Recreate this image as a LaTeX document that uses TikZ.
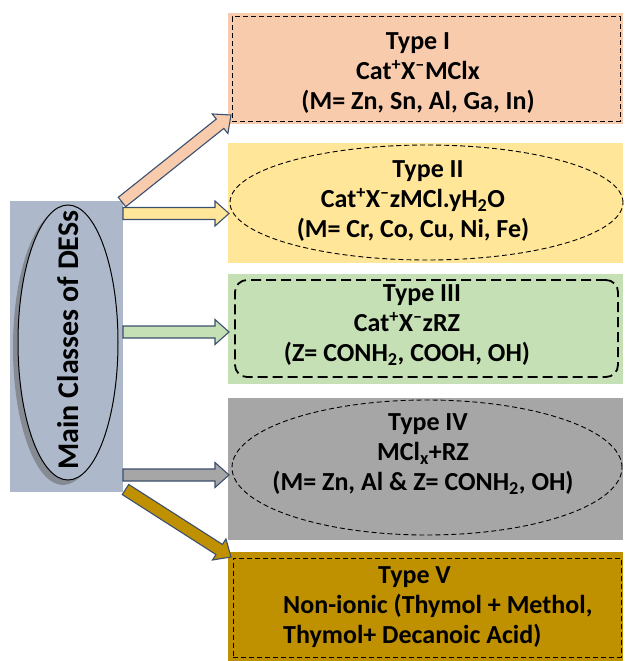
\documentclass[tikz,border=0pt]{standalone}
\usepackage{fontspec}
\setmainfont{Carlito}
\usepackage{tikz}
\usetikzlibrary{shapes.geometric, calc, shadows}

\definecolor{classblue}{HTML}{ADB9CA}
\definecolor{peach}{HTML}{F8CBAD}
\definecolor{butter}{HTML}{FFE699}
\definecolor{sage}{HTML}{C5E0B4}
\definecolor{ash}{HTML}{A6A6A6}
\definecolor{ochre}{HTML}{BF9000}
\definecolor{arrowblue}{HTML}{3B4F6E}

% block arrow from #1 to #2, filled with #3
\newcommand{\blockarrow}[3]{%
  \coordinate (hb) at ($(#2)!14pt!(#1)$);
  \draw[arrowbox, fill=#3]
    ($(#1)!6pt!90:(#2)$) -- ($(hb)!6pt!90:(#2)$)
    -- ($(hb)!12.5pt!90:(#2)$) -- (#2)
    -- ($(hb)!12.5pt!-90:(#2)$) -- ($(hb)!6pt!-90:(#2)$)
    -- ($(#1)!6pt!-90:(#2)$) -- cycle;}

\begin{document}
\begin{tikzpicture}[x=1pt, y=-1pt,
    % coloured panels of the five types
    panel/.style={rectangle, draw=none, minimum width=395pt, inner sep=0pt},
    % dashed frames inside the panels
    dashframe/.style={rectangle, draw=black, dash pattern=on 5pt off 3pt,
                      line width=1pt, inner sep=0pt},
    dashoval/.style={ellipse, draw=black, dash pattern=on 5pt off 3pt,
                     line width=0.9pt, inner sep=0pt},
    % panel texts
    typetext/.style={font=\bfseries\fontsize{26}{30}\selectfont, align=center,
                     inner sep=0pt},
    arrowbox/.style={draw=arrowblue, line width=1.1pt, line join=miter}
]
\useasboundingbox (0,0) rectangle (625,661);

%-------- LEFT BLOCK --------
\node[rectangle, fill=classblue, minimum width=113pt, minimum height=291pt,
      inner sep=0pt] (classes) at (66.5,346.5) {};
\node[ellipse, draw=black, line width=1pt, fill=classblue, minimum width=100pt,
      minimum height=275pt, inner sep=0pt,
      drop shadow={shadow xshift=-5pt, shadow yshift=-5pt, fill=black!60, opacity=.55}]
    (oval) at (68,342.5) {};
\node[rotate=90, font=\bfseries\fontsize{30}{34}\selectfont] (title) at (68,340)
    {Main Classes of DESs};

%-------- TYPE PANELS --------
\node[panel, fill=peach, minimum height=111pt] (t1) at (425.5,68.5) {};
\node[dashframe, minimum width=388pt, minimum height=104pt] (f1) at (426,69) {};
\node[typetext] (x1) at (418,73.5)
    {Type I\\
     Cat\textsuperscript{+}X\textsuperscript{--}MClx\hspace*{50pt}\\
     (M= Zn, Sn, Al, Ga, In)};

\node[panel, fill=butter, minimum height=120pt] (t2) at (425.5,203) {};
\node[dashoval, minimum width=393pt, minimum height=115pt] (f2) at (426.5,202.5) {};
\node[typetext] (x2) at (413,201.5)
    {\hspace*{30pt}Type II\\
     Cat\textsuperscript{+}X\textsuperscript{--}zMCl.yH\textsubscript{2}O\hspace*{40pt}\\
     (M= Cr, Co, Cu, Ni, Fe)};

\node[panel, fill=sage, minimum height=110pt] (t3) at (425.5,329) {};
\node[dashframe, rounded corners=12pt, line width=1.8pt, dash pattern=on 10pt off 5pt,
      minimum width=383pt, minimum height=97pt] (f3) at (426.5,328.5) {};
\node[typetext] (x3) at (407,325.5)
    {\hspace*{30pt}Type III\\
     Cat\textsuperscript{+}X\textsuperscript{--}zRZ\\
     (Z= CONH\textsubscript{2}, COOH, OH)};

\node[panel, fill=ash, minimum height=142pt] (t4) at (425.5,469) {};
\node[dashoval, minimum width=390pt, minimum height=135pt] (f4) at (427,467.5) {};
\node[typetext] (x4) at (423,454.5)
    {\hspace*{10pt}Type IV\\
     MCl\textsubscript{x}+RZ\\
     (M= Zn, Al \& Z= CONH\textsubscript{2}, OH)};

\node[panel, fill=ochre, minimum height=109pt] (t5) at (425.5,606.5) {};
\node[dashframe, minimum width=388pt, minimum height=99pt] (f5) at (427,607.5) {};
\node[typetext, align=left, anchor=west] (x5) at (283,607)
    {\hspace*{95pt}Type V\\
     Non-ionic (Thymol + Methol,\\
     Thymol+ Decanoic Acid)};

%-------- ARROWS --------
\coordinate (s1) at (122,202);   \coordinate (e1) at (231,115);
\coordinate (s2) at (123,213.5); \coordinate (e2) at (229,213.5);
\coordinate (s3) at (123,332);   \coordinate (e3) at (229,332);
\coordinate (s4) at (123,475);   \coordinate (e4) at (229,475);
\coordinate (s5) at (125.5,489.5); \coordinate (e5) at (231,557);

\blockarrow{s1}{e1}{peach}
\blockarrow{s2}{e2}{butter}
\blockarrow{s3}{e3}{sage}
\blockarrow{s4}{e4}{ash}
\blockarrow{s5}{e5}{ochre}

\end{tikzpicture}
\end{document}
